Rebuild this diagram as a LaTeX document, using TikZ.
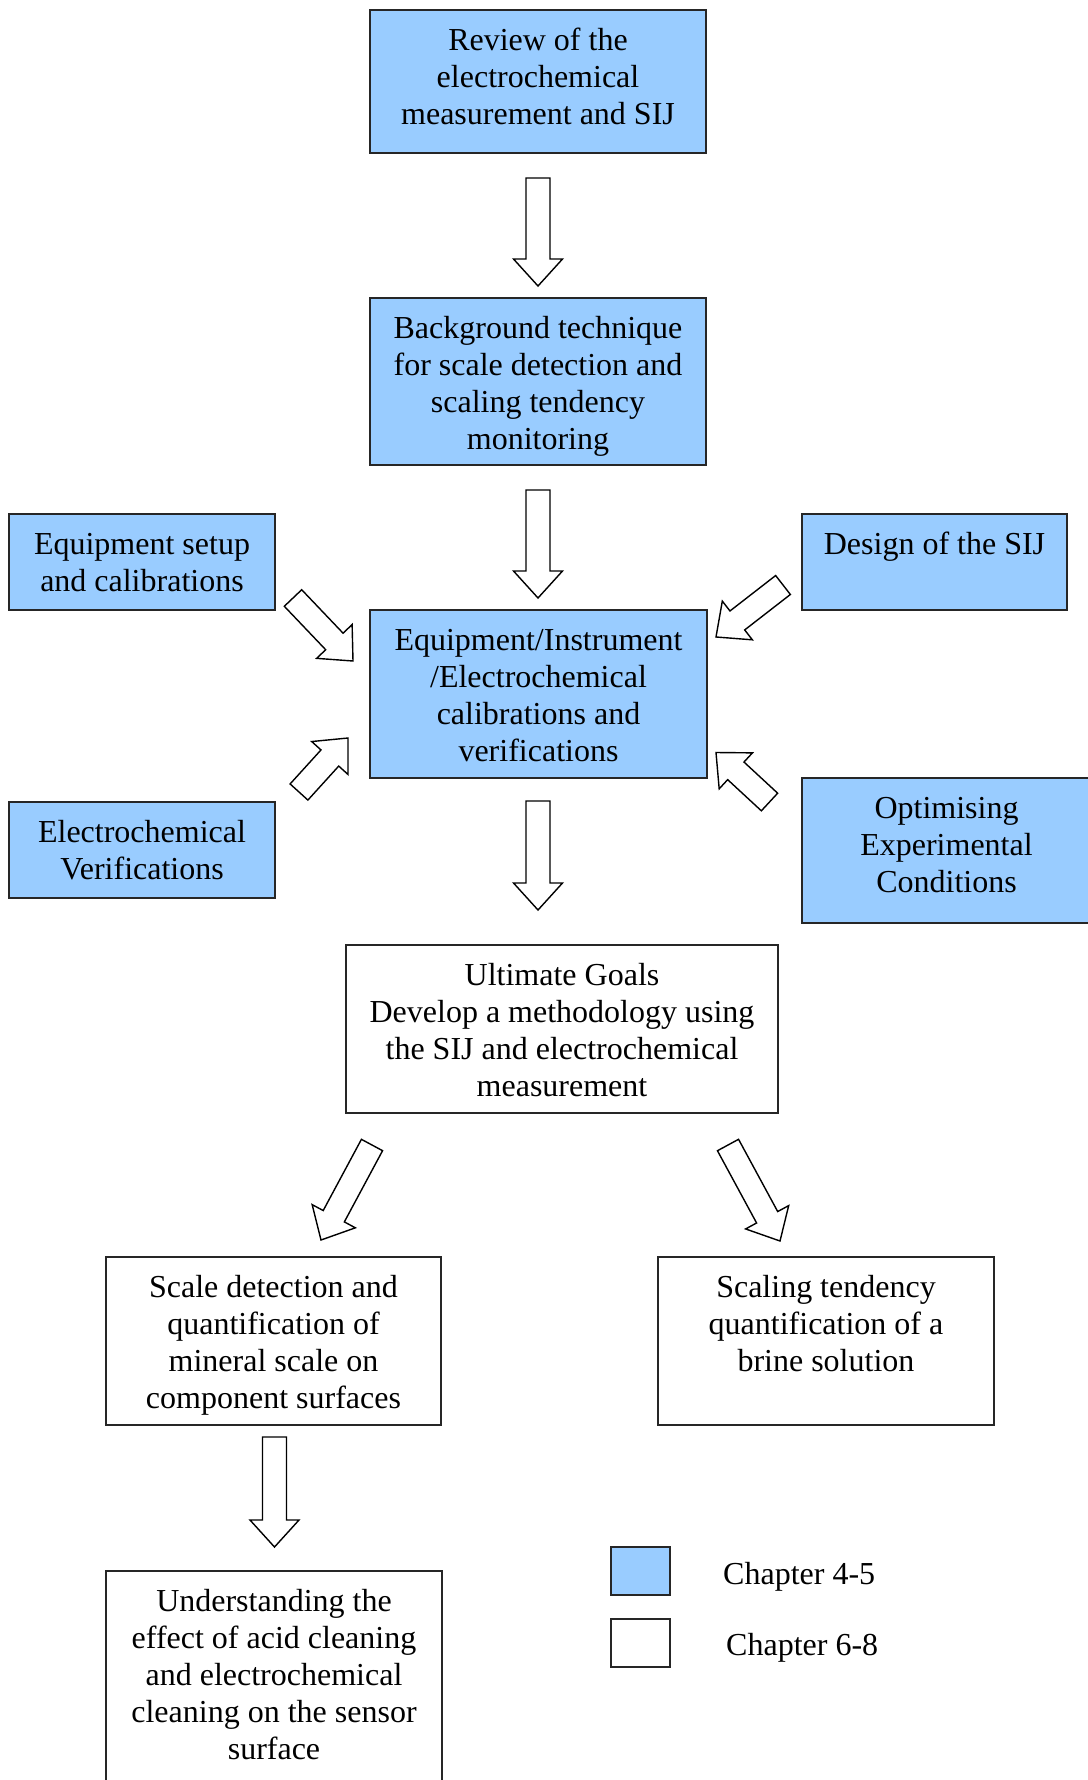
\documentclass[tikz,border=0pt]{standalone}
\usepackage{fontspec}
\setmainfont{Liberation Serif}
\usetikzlibrary{calc}
\definecolor{chapblue}{RGB}{153,204,255}

\tikzset{
  boxline/.style={draw=black!85, line width=1.6pt},
  bluebox/.style={boxline, fill=chapblue},
  whitebox/.style={boxline, fill=white},
  boxtext/.style={anchor=north, inner sep=0pt, align=center,
    font=\fontsize{32}{37}\selectfont},
  legendtext/.style={anchor=west, inner sep=0pt,
    font=\fontsize{32}{37}\selectfont},
  hollowarrow/.style={draw=black, line width=1.4pt, fill=white, line join=miter},
}

% box: name, style, left, top, right, bottom, text (set from the top)
\newcommand\chapbox[7]{%
  \node[#2, inner sep=0pt, outer sep=0pt, anchor=north west,
        minimum width={(#5)-(#3)}, minimum height={(#6)-(#4)}] (#1) at (#3,#4) {};
  \node[boxtext] (#1-t) at ($(#1.north)+(0,14)$) {\strut #7};
}

% outlined block arrow from a tail point to a tip point
\newcommand\flowarrow[2]{%
  \coordinate (fa-n) at ($(#2)!27pt!(#1)$);
  \draw[hollowarrow]
    ($(#1)!12pt!90:(#2)$) -- ($(fa-n)!12pt!90:(#2)$) --
    ($(fa-n)!24.5pt!90:(#2)$) -- (#2) -- ($(fa-n)!24.5pt!-90:(#2)$) --
    ($(fa-n)!12pt!-90:(#2)$) -- ($(#1)!12pt!-90:(#2)$) -- cycle;
}

\begin{document}
\begin{tikzpicture}[x=1pt, y=-1pt]
\useasboundingbox (0,0) rectangle (1087,1780);

% chapter 4-5 boxes
\chapbox{rev}{bluebox}{370}{10}{706}{153}{Review of the\\electrochemical\\measurement and SIJ}
\chapbox{bg}{bluebox}{370}{298}{706}{465}{Background technique\\for scale detection and\\scaling tendency\\monitoring}
\chapbox{eq}{bluebox}{370}{610}{707}{778}{Equipment/Instrument\\/Electrochemical\\calibrations and\\verifications}
\chapbox{setup}{bluebox}{9}{514}{275}{610}{Equipment setup\\and calibrations}
\chapbox{ev}{bluebox}{9}{802}{275}{898}{Electrochemical\\Verifications}
\chapbox{des}{bluebox}{802}{514}{1067}{610}{Design of the SIJ}
\chapbox{opt}{bluebox}{802}{778}{1091}{923}{Optimising\\Experimental\\Conditions}

% chapter 6-8 boxes
\chapbox{ug}{whitebox}{346}{945}{778}{1113}{Ultimate Goals\\Develop a methodology using\\the SIJ and electrochemical\\measurement}
\chapbox{sd}{whitebox}{106}{1257}{441}{1425}{Scale detection and\\quantification of\\mineral scale on\\component surfaces}
\chapbox{st}{whitebox}{658}{1257}{994}{1425}{Scaling tendency\\quantification of a\\brine solution}
\chapbox{un}{whitebox}{106}{1571}{442}{1800}{Understanding the\\effect of acid cleaning\\and electrochemical\\cleaning on the sensor\\surface}

% arrow end points
\coordinate (a1s) at (538,178);   \coordinate (a1e) at (538,286);
\coordinate (a2s) at (538,490);   \coordinate (a2e) at (538,598);
\coordinate (a3s) at (538,801);   \coordinate (a3e) at (538,910);
\coordinate (a4s) at (274.5,1437);\coordinate (a4e) at (274.5,1547);
\coordinate (a5s) at (372,1145);  \coordinate (a5e) at (321,1240);
\coordinate (a6s) at (728,1145);  \coordinate (a6e) at (780,1241);
\coordinate (a7s) at (293,598);   \coordinate (a7e) at (353,661);
\coordinate (a8s) at (299,792);   \coordinate (a8e) at (348,738);
\coordinate (a9s) at (783,585);   \coordinate (a9e) at (716,637);
\coordinate (a10s) at (769.5,802);\coordinate (a10e) at (716,752.5);

\flowarrow{a1s}{a1e}
\flowarrow{a2s}{a2e}
\flowarrow{a3s}{a3e}
\flowarrow{a4s}{a4e}
\flowarrow{a5s}{a5e}
\flowarrow{a6s}{a6e}
\flowarrow{a7s}{a7e}
\flowarrow{a8s}{a8e}
\flowarrow{a9s}{a9e}
\flowarrow{a10s}{a10e}

% legend
\node[bluebox, inner sep=0pt, anchor=north west, minimum width=59, minimum height=48] (lgA) at (610,1546) {};
\node[whitebox, inner sep=0pt, anchor=north west, minimum width=59, minimum height=48] (lgB) at (610,1618) {};
\node[legendtext] (lgA-t) at (723,1577) {Chapter 4-5};
\node[legendtext] (lgB-t) at (726,1648) {Chapter 6-8};
\end{tikzpicture}
\end{document}
